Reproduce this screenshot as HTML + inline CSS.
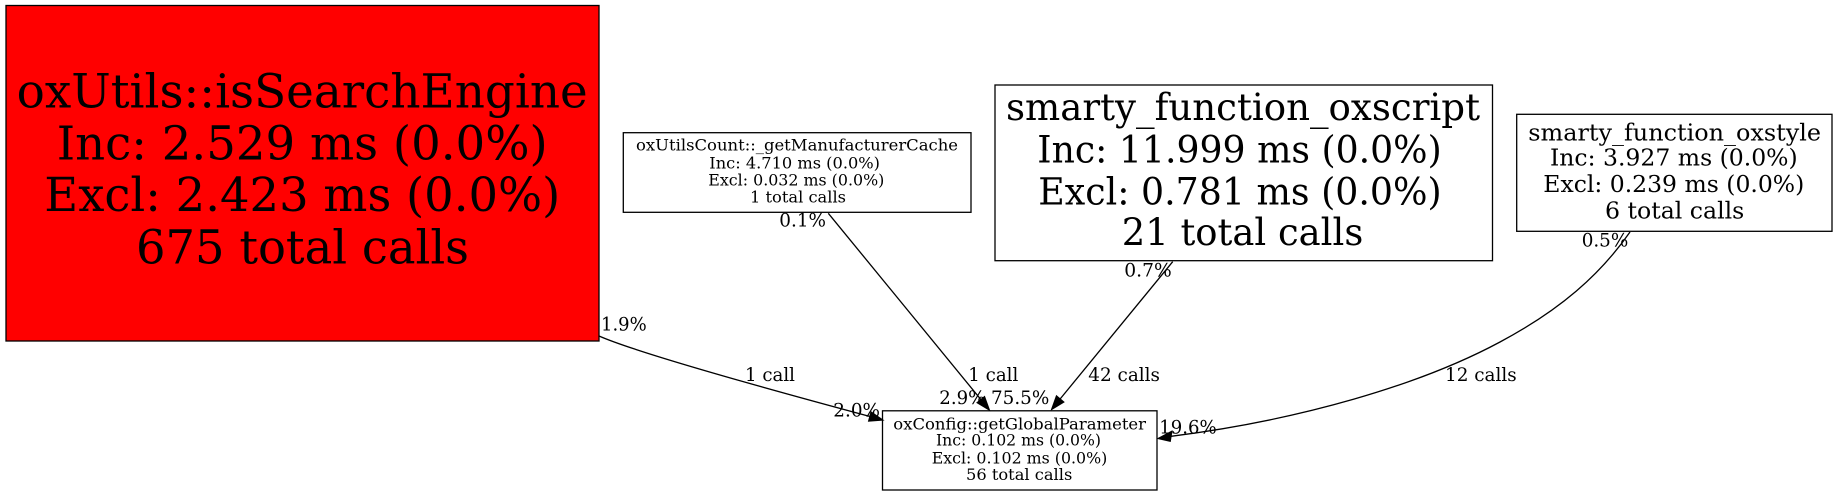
<!DOCTYPE html>
<html>
<head>
<meta charset="utf-8">
<style>
  html,body{margin:0;padding:0;background:#fff;}
  svg{display:block;}
  text{font-family:"DejaVu Serif","Liberation Serif",serif;fill:#000;}
</style>
</head>
<body>
<svg width="1837" height="496" viewBox="0 0 1837 496" xmlns="http://www.w3.org/2000/svg">
  <rect x="0" y="0" width="1837" height="496" fill="#fff"/>

  <!-- Node: oxUtils::isSearchEngine -->
  <rect x="6" y="5.5" width="593" height="335.5" fill="#ff0000" stroke="#000" stroke-width="1.3"/>
  <g font-size="46.7">
    <text x="16.7" y="107.3" textLength="571" lengthAdjust="spacingAndGlyphs">oxUtils::isSearchEngine</text>
    <text x="56.7" y="159.3" textLength="491" lengthAdjust="spacingAndGlyphs">Inc: 2.529 ms (0.0%)</text>
    <text x="44.3" y="211" textLength="516" lengthAdjust="spacingAndGlyphs">Excl: 2.423 ms (0.0%)</text>
    <text x="136" y="263.3" textLength="333" lengthAdjust="spacingAndGlyphs">675 total calls</text>
  </g>

  <!-- Node: oxUtilsCount::_getManufacturerCache -->
  <rect x="623.3" y="132.7" width="347.7" height="79.6" fill="#fff" stroke="#000" stroke-width="1.3"/>
  <g font-size="16">
    <text x="636" y="150.7" textLength="322" lengthAdjust="spacingAndGlyphs">oxUtilsCount::_getManufacturerCache</text>
    <text x="709.3" y="168.3" textLength="170.7" lengthAdjust="spacingAndGlyphs">Inc: 4.710 ms (0.0%)</text>
    <text x="708.3" y="185.7" textLength="176" lengthAdjust="spacingAndGlyphs">Excl: 0.032 ms (0.0%)</text>
    <text x="750" y="202.3" textLength="96" lengthAdjust="spacingAndGlyphs">1 total calls</text>
  </g>

  <!-- Node: smarty_function_oxscript -->
  <rect x="995" y="85" width="497.5" height="175.7" fill="#fff" stroke="#000" stroke-width="1.3"/>
  <g font-size="37">
    <text x="1006" y="120" textLength="474" lengthAdjust="spacingAndGlyphs">smarty_function_oxscript</text>
    <text x="1037.3" y="162.5" textLength="404.4" lengthAdjust="spacingAndGlyphs">Inc: 11.999 ms (0.0%)</text>
    <text x="1038.3" y="204.5" textLength="403.4" lengthAdjust="spacingAndGlyphs">Excl: 0.781 ms (0.0%)</text>
    <text x="1121.7" y="245" textLength="241.6" lengthAdjust="spacingAndGlyphs">21 total calls</text>
  </g>

  <!-- Node: smarty_function_oxstyle -->
  <rect x="1516.7" y="114.3" width="315.3" height="117" fill="#fff" stroke="#000" stroke-width="1.3"/>
  <g font-size="23.7">
    <text x="1528.3" y="140.7" textLength="292.7" lengthAdjust="spacingAndGlyphs">smarty_function_oxstyle</text>
    <text x="1550" y="165.3" textLength="247.7" lengthAdjust="spacingAndGlyphs">Inc: 3.927 ms (0.0%)</text>
    <text x="1543.3" y="192" textLength="261" lengthAdjust="spacingAndGlyphs">Excl: 0.239 ms (0.0%)</text>
    <text x="1605" y="218.3" textLength="139.3" lengthAdjust="spacingAndGlyphs">6 total calls</text>
  </g>

  <!-- Node: oxConfig::getGlobalParameter -->
  <rect x="882.5" y="410.8" width="274.5" height="79.2" fill="#fff" stroke="#000" stroke-width="1.3"/>
  <g font-size="16">
    <text x="893.3" y="429.3" textLength="252.7" lengthAdjust="spacingAndGlyphs">oxConfig::getGlobalParameter</text>
    <text x="936" y="445.7" textLength="165" lengthAdjust="spacingAndGlyphs">Inc: 0.102 ms (0.0%)</text>
    <text x="931.7" y="463.3" textLength="175.6" lengthAdjust="spacingAndGlyphs">Excl: 0.102 ms (0.0%)</text>
    <text x="966" y="480" textLength="106.3" lengthAdjust="spacingAndGlyphs">56 total calls</text>
  </g>

  <!-- Edges -->
  <g fill="none" stroke="#000" stroke-width="1.3">
    <path d="M599,336 C640,354 790,395 870,416.5"/>
    <path d="M828.3,213.3 L981,399.7"/>
    <path d="M1172.7,261.7 L1060.1,399"/>
    <path d="M1630,232 C1600,275 1560,310 1500,342 C1420,385 1300,420 1171,436.3"/>
  </g>
  <g fill="#000" stroke="#000" stroke-width="1.3">
    <polygon points="882.7,420 871.1,412 868.7,421"/>
    <polygon points="989.3,410 977.2,402.7 984.5,396.7"/>
    <polygon points="1051.7,409.3 1056.5,396 1063.7,402"/>
    <polygon points="1158.3,438.5 1171.8,431.3 1170.2,441.2"/>
  </g>

  <!-- Edge labels -->
  <g font-size="18.3">
    <text x="601" y="330.7" textLength="45.7" lengthAdjust="spacingAndGlyphs">1.9%</text>
    <text x="745" y="381" textLength="50" lengthAdjust="spacingAndGlyphs">1 call</text>
    <text x="833.3" y="416.7" textLength="46.7" lengthAdjust="spacingAndGlyphs">2.0%</text>

    <text x="779.3" y="226.7" textLength="46.7" lengthAdjust="spacingAndGlyphs">0.1%</text>
    <text x="968.3" y="381" textLength="50" lengthAdjust="spacingAndGlyphs">1 call</text>
    <text x="939.3" y="404" textLength="46" lengthAdjust="spacingAndGlyphs">2.9%</text>

    <text x="991" y="404" textLength="58.3" lengthAdjust="spacingAndGlyphs">75.5%</text>
    <text x="1124.3" y="276.7" textLength="47.4" lengthAdjust="spacingAndGlyphs">0.7%</text>
    <text x="1088.3" y="381" textLength="71.7" lengthAdjust="spacingAndGlyphs">42 calls</text>

    <text x="1581.7" y="246.7" textLength="46.6" lengthAdjust="spacingAndGlyphs">0.5%</text>
    <text x="1445" y="381" textLength="71.7" lengthAdjust="spacingAndGlyphs">12 calls</text>
    <text x="1159.3" y="433.3" textLength="57.4" lengthAdjust="spacingAndGlyphs">19.6%</text>
  </g>
</svg>
</body>
</html>
